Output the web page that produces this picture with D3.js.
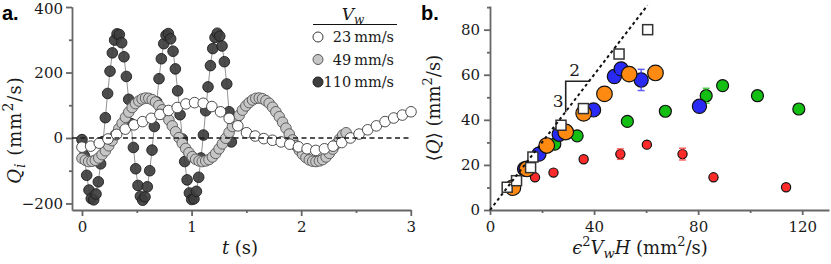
<!DOCTYPE html>
<html>
<head>
<meta charset="utf-8">
<script src="https://cdn.jsdelivr.net/npm/d3@7"></script>
<style>
  body { margin: 0; background: #fff; }
  svg text { font-family: "DejaVu Serif", serif; fill: #1a1a1a; }
  .tick text { font-size: 15px; font-family: "DejaVu Serif", serif; }
  .axis path, .axis line { stroke: #666; stroke-width: 1.8; }
  .lab { font-size: 18px; }
  svg text.panel { font-family: "Liberation Sans", Arial, sans-serif; font-weight: bold; font-size: 20px; fill: #000; }
</style>
</head>
<body>
<svg id="fig" width="831" height="264"></svg>
<script>
// ---- panel a: Q_i(t) for three wall speeds ----
const tDark = [0, .021, .043, .064, .085, .107, .128, .149, .170, .192, .213, .234, .256, .277, .298, .320,
  .341, .362, .383, .405, .426, .447, .469, .490, .511, .533, .554, .575, .596, .618, .639, .660, .682, .703,
  .724, .746, .767, .788, .809, .831, .852, .873, .895, .916, .937, .959, .980, 1.001, 1.022, 1.044, 1.065,
  1.086, 1.108, 1.129, 1.150, 1.172, 1.193, 1.214, 1.235, 1.257, 1.278, 1.299, 1.321, 1.342, 1.363];
const qDark = [-5, -54, -114, -159, -185, -189, -171, -134, -79, -11, 62, 136, 204, 260, 299, 318,
  316, 291, 248, 188, 118, 44, -29, -94, -145, -178, -190, -180, -149, -100, -37, 35, 110, 181,
  242, 288, 314, 319, 303, 265, 211, 144, 71, -3, -72, -128, -168, -188, -186, -163, -120,
  -61, 9, 83, 156, 221, 273, 307, 320, 311, 281, 233, 165, 80, -12];

const tGray = [0, .031, .061, .092, .122, .153, .183, .214, .244, .275, .305, .336, .366, .397, .427, .458,
  .488, .519, .549, .580, .610, .641, .671, .702, .732, .763, .793, .824, .854, .885, .915, .946, .976,
  1.007, 1.037, 1.068, 1.098, 1.129, 1.159, 1.190, 1.220, 1.251, 1.281, 1.312, 1.342, 1.373, 1.403, 1.434,
  1.464, 1.495, 1.525, 1.556, 1.586, 1.617, 1.647, 1.678, 1.708, 1.739, 1.769, 1.800, 1.830, 1.861, 1.891,
  1.922, 1.952, 1.983, 2.013, 2.044, 2.074, 2.105, 2.135, 2.166, 2.196, 2.227, 2.257, 2.288, 2.318, 2.349,
  2.379, 2.410];
const qGray = [-62, -68, -72, -71, -68, -61, -51, -39, -24, -8, 10, 28, 45, 63, 79, 93, 105, 113, 119, 122,
  121, 117, 110, 99, 86, 71, 55, 37, 19, 1, -16, -32, -45, -57, -65, -70, -72, -70, -66, -58,
  -47, -33, -18, -1, 17, 35, 53, 69, 85, 98, 108, 116, 121, 122, 120, 114, 106, 94, 80, 65,
  48, 30, 12, -6, -23, -38, -50, -60, -67, -71, -72, -70, -66, -58, -47, -34, -19, -4, 9, 16];

const tWhite = [0, .079, .158, .237, .316, .395, .474, .553, .632, .711, .790, .869, .948, 1.027, 1.106,
  1.185, 1.264, 1.343, 1.422, 1.501, 1.580, 1.659, 1.738, 1.817, 1.896, 1.975, 2.054, 2.133, 2.212,
  2.291, 2.370, 2.449, 2.528, 2.607, 2.686, 2.765, 2.844, 2.923, 3.002];
const qWhite = [-28, -25, -16, -3, 11, 27, 40, 50, 60, 72, 84, 93, 104, 108, 106, 96, 80, 60, 37, 16,
  6, -2, -7, -12, -19, -27, -33, -38, -33, -25, -14, 0, 12, 25, 37, 50, 61, 70, 80];

const legendLabels = ["23\u2009mm/s", "49\u2009mm/s", "110\u2009mm/s"];

// ---- panel b: <Q> vs eps^2 Vw H ----
const redX = [17.3, 24.4, 36.0, 50.1, 60.3, 74.0, 85.9, 113.8];
const redY = [14.5, 16.6, 22.5, 24.8, 29.0, 24.8, 14.5, 10.1];
const redE = [0, 0, 0, 2.3, 0, 2.6, 0, 0];
const greenX = [24.9, 33.5, 52.8, 67.4, 83.1, 89.4, 102.8, 118.7];
const greenY = [29.2, 32.9, 39.3, 43.8, 50.7, 55.2, 50.7, 44.8];
const greenE = [0, 0, 0, 0, 3.3, 0, 0, 0];
const blueX = [13.3, 18.8, 26.6, 39.8, 47.8, 50.4, 58.1, 80.5];
const blueY = [18.2, 24.8, 33.6, 44.4, 59.2, 62.6, 57.7, 46.0];
const blueE = [0, 0, 0, 1.0, 1.3, 0, 4.7, 0];
const orangeX = [8.8, 14.2, 21.8, 29.1, 36.0, 44.0, 53.5, 63.6];
const orangeY = [9.9, 18.2, 28.6, 34.6, 42.9, 51.5, 60.3, 60.8];
const squareX = [6.6, 10.2, 15.6, 16.5, 27.3, 35.9, 49.6, 60.6];
const squareY = [10.1, 13.0, 18.8, 23.5, 37.6, 45.0, 69.2, 80.0];
const slopeLine = [0, 60.5];   // y = 1.5 x

const svg = d3.select("#fig");

const zip = (xs, ys, es) => xs.map((x, i) => ({ x, y: ys[i], e: es ? es[i] : 0 }));
const minus = d => d < 0 ? "\u2212" + (-d) : String(d);

// ================= panel a =================
const xa = d3.scaleLinear().domain([-0.091, 3.0]).range([72, 410.8]);
const ya = d3.scaleLinear().domain([-220, 401]).range([210, 6.7]);
const ga = svg.append("g");

ga.append("g").attr("class", "axis").attr("transform", "translate(0,210)")
  .call(d3.axisBottom(xa).tickValues([0, 1, 2, 3]).tickSize(6).tickSizeOuter(0).tickPadding(5).tickFormat(d3.format("d")));
ga.append("g").attr("class", "axis").attr("transform", "translate(0,210)")
  .call(d3.axisBottom(xa).tickValues([0.5, 1.5, 2.5]).tickSize(3).tickFormat(""))
  .select(".domain").remove();
const yAxA = ga.append("g").attr("class", "axis").attr("transform", "translate(72,0)")
  .call(d3.axisLeft(ya).tickValues([-200, 0, 200, 400]).tickSize(6).tickSizeOuter(0).tickPadding(3).tickFormat(minus));
yAxA.selectAll(".tick text").filter(d => d === 400).attr("dy", "0.45em");
ga.append("g").attr("class", "axis").attr("transform", "translate(72,0)")
  .call(d3.axisLeft(ya).tickValues([-100, 100, 300]).tickSize(3).tickFormat(""))
  .select(".domain").remove();

// legend order: 23, 49, 110 mm/s
const seriesA = [
  { pts: zip(tWhite, qWhite), fill: "#fff", stroke: "#3a3a3a", op: 1 },
  { pts: zip(tGray, qGray), fill: "#c6c6c6", stroke: "#555", op: 1 },
  { pts: zip(tDark, qDark), fill: "#3e3e3e", stroke: "#1e1e1e", op: 0.92 }
];
const lineA = d3.line().x(d => xa(d.x)).y(d => ya(d.y));
// draw dark first, white on top
[2, 1, 0].forEach(i => {
  const s = seriesA[i];
  ga.append("path").attr("d", lineA(s.pts)).attr("fill", "none")
    .attr("stroke", "#777").attr("stroke-width", 0.8);
  ga.append("g").selectAll("circle").data(s.pts).join("circle")
    .attr("cx", d => xa(d.x)).attr("cy", d => ya(d.y)).attr("r", 5.3)
    .attr("fill", s.fill).attr("fill-opacity", s.op)
    .attr("stroke", s.stroke).attr("stroke-width", 0.9);
});

ga.append("line")
  .attr("x1", xa.range()[0]).attr("x2", xa.range()[1])
  .attr("y1", ya(0)).attr("y2", ya(0))
  .attr("stroke", "#1a1a1a").attr("stroke-width", 1.5).attr("stroke-dasharray", "5,3.5");

// legend
const leg = ga.append("g");
const vt = leg.append("text").attr("x", 353).attr("y", 20).attr("text-anchor", "middle").attr("font-size", 17);
vt.append("tspan").attr("font-style", "italic").text("V");
vt.append("tspan").attr("font-style", "italic").attr("font-size", 12).attr("dy", 4).text("w");
leg.append("line").attr("x1", 313).attr("x2", 397).attr("y1", 24.5).attr("y2", 24.5)
  .attr("stroke", "#111").attr("stroke-width", 1);
legendLabels.forEach((l, i) => {
  const s = seriesA[i];
  const cy = 37 + i * 22.5;
  leg.append("circle").attr("cx", 318).attr("cy", cy).attr("r", 5)
    .attr("fill", s.fill).attr("stroke", s.stroke).attr("stroke-width", 1);
  leg.append("text").attr("x", 394).attr("y", cy + 5).attr("text-anchor", "end")
    .attr("font-size", 14.5).text(l);
});

// labels
const xla = ga.append("text").attr("class", "lab").attr("x", 240).attr("y", 254).attr("text-anchor", "middle");
xla.append("tspan").attr("font-style", "italic").text("t");
xla.append("tspan").text(" (s)");

const yla = ga.append("text").attr("class", "lab").attr("text-anchor", "middle")
  .attr("font-size", 20).attr("letter-spacing", 1)
  .attr("transform", "translate(21,130) rotate(-90)");
yla.append("tspan").attr("font-style", "italic").text("Q");
yla.append("tspan").attr("font-style", "italic").attr("font-size", 14).attr("dy", 4).text("i");
yla.append("tspan").attr("dy", -4).text(" (mm");
yla.append("tspan").attr("font-size", 14).attr("dy", -8).text("2");
yla.append("tspan").attr("dy", 8).text("/s)");

svg.append("text").attr("class", "panel").attr("x", 2).attr("y", 20).text("a.");

// ================= panel b =================
const xb = d3.scaleLinear().domain([0, 130.3]).range([490, 829]);
const yb = d3.scaleLinear().domain([0, 90.5]).range([210, 6]);
const gb = svg.append("g");

gb.append("g").attr("class", "axis").attr("transform", "translate(0,210)")
  .call(d3.axisBottom(xb).tickValues([0, 40, 80, 120]).tickSize(5).tickSizeOuter(0).tickPadding(6));
gb.append("g").attr("class", "axis").attr("transform", "translate(0,210)")
  .call(d3.axisBottom(xb).tickValues([20, 60, 100]).tickSize(3).tickFormat(""))
  .select(".domain").remove();
gb.append("g").attr("class", "axis").attr("transform", "translate(490,0)")
  .call(d3.axisLeft(yb).tickValues([0, 20, 40, 60, 80]).tickSize(6).tickSizeOuter(0).tickPadding(4));
gb.append("g").attr("class", "axis").attr("transform", "translate(490,0)")
  .call(d3.axisLeft(yb).tickValues([10, 30, 50, 70, 90]).tickSize(3).tickFormat(""))
  .select(".domain").remove();

const seriesB = [
  { pts: zip(redX, redY, redE), fill: "#ff2b2b", r: 4.6 },
  { pts: zip(greenX, greenY, greenE), fill: "#14bf14", r: 6 },
  { pts: zip(blueX, blueY, blueE), fill: "#2a2af5", r: 7.1 },
  { pts: zip(orangeX, orangeY), fill: "#ff8a12", r: 7.8 }
];
seriesB.forEach(s => {
  gb.append("g").selectAll("circle").data(s.pts).join("circle")
    .attr("cx", d => xb(d.x)).attr("cy", d => yb(d.y)).attr("r", s.r)
    .attr("fill", s.fill).attr("stroke", "#111").attr("stroke-width", 1.2);
  const eb = gb.append("g").attr("stroke", s.fill).attr("stroke-width", 1.5).attr("opacity", 0.75);
  s.pts.filter(d => d.e > 0).forEach(d => {
    const cx = xb(d.x), y1 = yb(d.y - d.e), y2 = yb(d.y + d.e);
    eb.append("line").attr("x1", cx).attr("x2", cx).attr("y1", y1).attr("y2", y2);
    eb.append("line").attr("x1", cx - 3.5).attr("x2", cx + 3.5).attr("y1", y1).attr("y2", y1);
    eb.append("line").attr("x1", cx - 3.5).attr("x2", cx + 3.5).attr("y1", y2).attr("y2", y2);
  });
});

gb.append("g").selectAll("rect").data(zip(squareX, squareY)).join("rect")
  .attr("x", d => xb(d.x) - 5).attr("y", d => yb(d.y) - 5)
  .attr("width", 10).attr("height", 10)
  .attr("fill", "#fff").attr("stroke", "#333").attr("stroke-width", 1.5);

gb.append("line")
  .attr("x1", xb(slopeLine[0])).attr("y1", yb(1.5 * slopeLine[0]))
  .attr("x2", xb(slopeLine[1])).attr("y2", yb(1.5 * slopeLine[1]))
  .attr("stroke", "#111").attr("stroke-width", 2).attr("stroke-dasharray", "3,3");

// slope triangle 2:3
gb.append("path")
  .attr("d", `M${xb(38.5)},${yb(57.1)}H${xb(29.1)}V${yb(43.4)}`)
  .attr("fill", "none").attr("stroke", "#222").attr("stroke-width", 1.6);
gb.append("text").attr("x", xb(32.5)).attr("y", yb(59.3)).attr("text-anchor", "middle").attr("font-size", 17).text("2");
gb.append("text").attr("x", xb(26.2)).attr("y", yb(45.5)).attr("text-anchor", "middle").attr("font-size", 17).text("3");

const xlb = gb.append("text").attr("class", "lab").attr("font-size", 19).attr("x", 640).attr("y", 254).attr("text-anchor", "middle");
xlb.append("tspan").attr("font-style", "italic").text("\u03F5");
xlb.append("tspan").attr("font-size", 13).attr("dy", -8).text("2");
xlb.append("tspan").attr("font-style", "italic").attr("dy", 8).text("V");
xlb.append("tspan").attr("font-style", "italic").attr("font-size", 13).attr("dy", 4).text("w");
xlb.append("tspan").attr("font-style", "italic").attr("dy", -4).text("H");
xlb.append("tspan").text(" (mm");
xlb.append("tspan").attr("font-size", 13).attr("dy", -8).text("2");
xlb.append("tspan").attr("dy", 8).text("/s)");

const ylb = gb.append("text").attr("class", "lab").attr("text-anchor", "middle")
  .attr("transform", "translate(440,108) rotate(-90)");
ylb.append("tspan").text("\u27E8");
ylb.append("tspan").attr("font-style", "italic").text("Q");
ylb.append("tspan").text("\u27E9 (mm");
ylb.append("tspan").attr("font-size", 13).attr("dy", -8).text("2");
ylb.append("tspan").attr("dy", 8).text("/s)");

svg.append("text").attr("class", "panel").attr("x", 421).attr("y", 20).text("b.");
</script>
</body>
</html>
